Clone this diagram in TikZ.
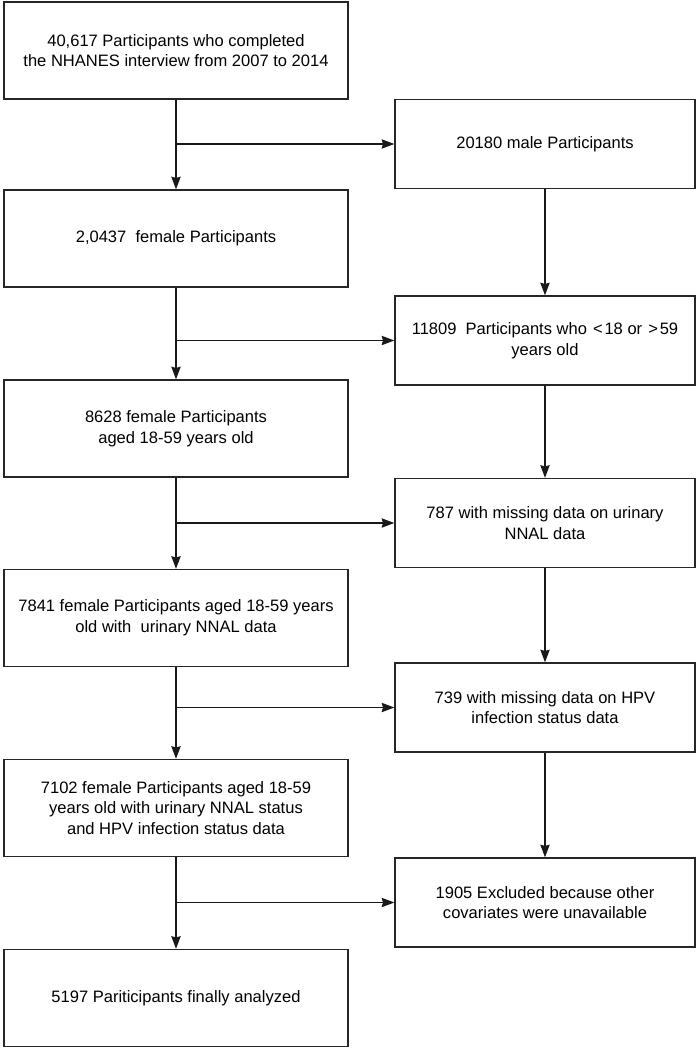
\documentclass[tikz,border=0pt]{standalone}
\usepackage{fontspec}
\setmainfont{Liberation Sans}
\usetikzlibrary{arrows.meta}

\tikzset{
  box/.style={draw=black!85, line width=1pt, fill=white, align=center,
    font=\fontsize{12.4}{15.5}\selectfont, inner sep=0pt},
  leftbox/.style={box, minimum width=344*0.75pt, minimum height=97*0.75pt},
  rightbox/.style={box, minimum width=300*0.75pt, minimum height=89*0.75pt},
  flow/.style={draw=black!90, line width=1pt,
    -{Stealth[length=9.5pt, width=7pt, inset=1pt]}}
}

\begin{document}
\begin{tikzpicture}[x=0.75pt, y=-0.75pt]
    \useasboundingbox (0,0) rectangle (696,1049);

    % main column
    \node[leftbox] (total) at (176,50.5)
      {40,617 Participants who completed\\the NHANES interview from 2007 to 2014};
    \node[leftbox] (female) at (176,238.5) {2,0437\ \ female Participants};
    \node[leftbox] (aged) at (176,428.5)
      {8628 female Participants\\aged 18-59 years old};
    \node[leftbox] (nnal) at (176,618)
      {7841 female Participants aged 18-59 years\\old with\ \ urinary NNAL data};
    \node[leftbox] (hpv) at (176,808)
      {7102 female Participants aged 18-59\\years old with urinary NNAL status\\and HPV infection status data};
    \node[leftbox] (final) at (176,998) {5197 Pariticipants finally analyzed};

    % exclusions
    \node[rightbox] (male) at (545,144) {20180 male Participants};
    \node[rightbox] (age) at (545,340.5)
      {11809\ \ Participants who \hspace{0.1em}<\hspace{0.1em}18 or \hspace{0.1em}>\hspace{0.1em}59\\years old};
    \node[rightbox] (nonnal) at (545,523)
      {787 with missing data on urinary\\NNAL data};
    \node[rightbox] (nohpv) at (545,707.5)
      {739 with missing data on HPV\\infection status data};
    \node[rightbox] (nocov) at (545,902.5)
      {1905 Excluded because other\\covariates were unavailable};

    \draw[flow] (total) -- (female);
    \draw[flow] (female) -- (aged);
    \draw[flow] (aged) -- (nnal);
    \draw[flow] (nnal) -- (hpv);
    \draw[flow] (hpv) -- (final);

    \draw[flow] (total.south |- male.west) -- (male.west);
    \draw[flow] (female.south |- age.west) -- (age.west);
    \draw[flow] (aged.south |- nonnal.west) -- (nonnal.west);
    \draw[flow] (nnal.south |- nohpv.west) -- (nohpv.west);
    \draw[flow] (hpv.south |- nocov.west) -- (nocov.west);

    \draw[flow] (male) -- (age);
    \draw[flow] (age) -- (nonnal);
    \draw[flow] (nonnal) -- (nohpv);
    \draw[flow] (nohpv) -- (nocov);
  \end{tikzpicture}
\end{document}
